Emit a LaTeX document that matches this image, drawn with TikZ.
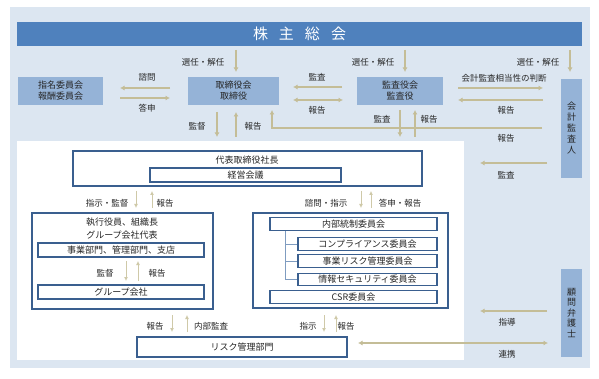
\documentclass[tikz,border=0pt]{standalone}
\usepackage{fontspec}
\setmainfont{Noto Sans CJK JP}
\usetikzlibrary{arrows.meta}
\definecolor{bgc}{HTML}{DCE6F1}
\definecolor{bannerc}{HTML}{4F81BD}
\definecolor{midb}{HTML}{95B3D7}
\definecolor{edgec}{HTML}{3A5F8F}
\definecolor{tanc}{HTML}{C4BD97}
\definecolor{tanl}{HTML}{CFC9A8}
\definecolor{treec}{HTML}{7F9CC0}
\definecolor{txt}{HTML}{262626}
\begin{document}
\begin{tikzpicture}[x=1pt,y=-1pt,
  bluebox/.style={fill=midb, inner sep=0, text=txt, font=\fontsize{9}{11}\selectfont, align=center},
  wbox/.style={draw=edgec, line width=1.4pt, fill=white, inner sep=0, text=txt, font=\fontsize{9}{11}\selectfont},
  arrA/.style={draw=tanc, line width=1.5pt, -{Latex[length=4.5pt,width=5pt]}},
  arrD/.style={draw=tanc, line width=1.5pt, {Latex[length=4.5pt,width=5pt]}-{Latex[length=4.5pt,width=5pt]}},
  arrB/.style={draw=tanl, line width=0.9pt, -{Latex[length=4pt,width=4pt]}},
  lbl/.style={text=txt, font=\fontsize{8.5}{10}\selectfont, inner sep=0},
  boxtxt/.style={text=txt, font=\fontsize{9}{11}\selectfont, inner sep=0, align=center},
  treeline/.style={draw=treec, line width=0.8pt},
]
\useasboundingbox (0,0) rectangle (599,379);
\fill[bgc] (10,7) rectangle (590,368);
\fill[white] (17,141) rectangle (464,360);

% top banner
\node[fill=bannerc, minimum width=565pt, minimum height=24pt, inner sep=0, text=white,
      font=\fontsize{15}{15}\selectfont] (banner) at (299.5,34) {株\hspace{11pt}主\hspace{11pt}総\hspace{11pt}会};

% blue boxes
\node[bluebox, minimum width=85pt, minimum height=28pt] (nomi) at (60.5,91) {指名委員会\\報酬委員会};
\node[bluebox, minimum width=91pt, minimum height=28pt] (tori) at (233.5,91) {取締役会\\取締役};
\node[bluebox, minimum width=86pt, minimum height=28pt] (kansa) at (400,91) {監査役会\\監査役};
\node[bluebox, minimum width=21pt, minimum height=99pt] (kaikei) at (571.5,128.5) {会\\計\\監\\査\\人};
\node[bluebox, minimum width=21pt, minimum height=88pt, font=\fontsize{9}{10.5}\selectfont] (komon) at (571.5,313) {顧\\問\\弁\\護\\士};

% white boxes
\node[wbox, minimum width=349pt, minimum height=35pt] (daihyo) at (247.5,168.5) {};
\node[boxtxt] (daihyot) at (247,160) {代表取締役社長};
\node[wbox, minimum width=191pt, minimum height=14pt] (keiei) at (245.5,175) {経営会議};

\node[wbox, minimum width=181pt, minimum height=96pt] (shikko) at (122.5,261) {};
\node[boxtxt, font=\fontsize{9}{13}\selectfont] (shikkot) at (122,228.5) {執行役員、組織長\\グループ会社代表};
\node[wbox, minimum width=166pt, minimum height=14pt] (jigyo) at (121,250) {事業部門、管理部門、支店};
\node[wbox, minimum width=166pt, minimum height=14pt] (group) at (121,292) {グループ会社};

\node[wbox, minimum width=195pt, minimum height=95pt] (rbox) at (350.5,260.5) {};
\node[wbox, minimum width=167pt, minimum height=12.5pt] (naibu) at (353.5,224) {内部統制委員会};
\node[wbox, minimum width=139pt, minimum height=12.5pt] (comp) at (367.5,244) {コンプライアンス委員会};
\node[wbox, minimum width=139pt, minimum height=12.5pt] (jrisk) at (367.5,261) {事業リスク管理委員会};
\node[wbox, minimum width=139pt, minimum height=12.5pt] (joho) at (367.5,279.5) {情報セキュリティ委員会};
\node[wbox, minimum width=167pt, minimum height=12.5pt] (csr) at (353.5,297) {CSR委員会};

\node[wbox, minimum width=210pt, minimum height=20pt] (risk) at (242,347) {リスク管理部門};

% tree lines
\draw[treeline] ([xshift=-68.5pt]naibu.south) |- (comp.west);
\draw[treeline] ([xshift=-68.5pt]naibu.south) |- (jrisk.west);
\draw[treeline] ([xshift=-68.5pt]naibu.south) |- (joho.west);

% arrow end points
\coordinate (a1s) at (236,50);  \coordinate (a1e) at (236,72);
\coordinate (a2s) at (405,50);  \coordinate (a2e) at (405,72);
\coordinate (a3s) at (570,50);  \coordinate (a3e) at (570,72);
\coordinate (a4s) at (170,88);  \coordinate (a4e) at (120,88);
\coordinate (a5s) at (120,98);  \coordinate (a5e) at (170,98);
\coordinate (a6s) at (342,87);  \coordinate (a6e) at (293,87);
\coordinate (a7s) at (293,100); \coordinate (a7e) at (343,100);
\coordinate (a8s) at (458,88);  \coordinate (a8e) at (543,88);
\coordinate (a9s) at (543,100); \coordinate (a9e) at (458,100);
\coordinate (a10s) at (217,112); \coordinate (a10e) at (217,137);
\coordinate (a11s) at (236,137); \coordinate (a11e) at (236,112);
\coordinate (a12s) at (542,128); \coordinate (a12m) at (272,128); \coordinate (a12e) at (272,110);
\coordinate (a13s) at (400,110); \coordinate (a13e) at (400,137);
\coordinate (a14s) at (415,137); \coordinate (a14e) at (415,110);
\coordinate (a15s) at (547,163); \coordinate (a15e) at (480,163);
\coordinate (a16s) at (136,191); \coordinate (a16e) at (136,208);
\coordinate (a17s) at (152,208); \coordinate (a17e) at (152,191);
\coordinate (a18s) at (361,191); \coordinate (a18e) at (361,208);
\coordinate (a19s) at (371,208); \coordinate (a19e) at (371,191);
\coordinate (a20s) at (126,261); \coordinate (a20e) at (126,281);
\coordinate (a21s) at (138,281); \coordinate (a21e) at (138,261);
\coordinate (a22s) at (172,315); \coordinate (a22e) at (172,332);
\coordinate (a23s) at (187,332); \coordinate (a23e) at (187,315);
\coordinate (a24s) at (324,315); \coordinate (a24e) at (324,332);
\coordinate (a25s) at (336,332); \coordinate (a25e) at (336,315);
\coordinate (a26s) at (547,311); \coordinate (a26e) at (480,311);
\coordinate (a27s) at (358,343); \coordinate (a27e) at (548,343);

% arrows on the blue background
\draw[arrA] (a1s) -- (a1e);
\draw[arrA] (a2s) -- (a2e);
\draw[arrA] (a3s) -- (a3e);
\draw[arrA] (a4s) -- (a4e);
\draw[arrA] (a5s) -- (a5e);
\draw[arrA] (a6s) -- (a6e);
\draw[arrD] (a7s) -- (a7e);
\draw[arrA] (a8s) -- (a8e);
\draw[arrA] (a9s) -- (a9e);
\draw[arrA] (a10s) -- (a10e);
\draw[arrA] (a11s) -- (a11e);
\draw[arrA] (a12s) -- (a12m) -- (a12e);
\draw[arrA] (a13s) -- (a13e);
\draw[arrA] (a14s) -- (a14e);
\draw[arrA] (a15s) -- (a15e);
\draw[arrA] (a26s) -- (a26e);
\draw[arrD] (a27s) -- (a27e);

% thin arrows in the white area
\draw[arrB] (a16s) -- (a16e);
\draw[arrB] (a17s) -- (a17e);
\draw[arrB] (a18s) -- (a18e);
\draw[arrB] (a19s) -- (a19e);
\draw[arrB] (a20s) -- (a20e);
\draw[arrB] (a21s) -- (a21e);
\draw[arrB] (a22s) -- (a22e);
\draw[arrB] (a23s) -- (a23e);
\draw[arrB] (a24s) -- (a24e);
\draw[arrB] (a25s) -- (a25e);

% labels
\node[lbl] (l1) at (203,62) {選任・解任};
\node[lbl] (l2) at (373,62) {選任・解任};
\node[lbl] (l3) at (538,62) {選任・解任};
\node[lbl] (l4) at (147,77) {諮問};
\node[lbl] (l5) at (147,108) {答申};
\node[lbl] (l6) at (317,77) {監査};
\node[lbl] (l7) at (317,110) {報告};
\node[lbl] (l8) at (504,78) {会計監査相当性の判断};
\node[lbl] (l9) at (506,110) {報告};
\node[lbl] (l10) at (197,126) {監督};
\node[lbl] (l11) at (253,126) {報告};
\node[lbl] (l12) at (506,138) {報告};
\node[lbl] (l13) at (382,119) {監査};
\node[lbl] (l14) at (429,119) {報告};
\node[lbl] (l15) at (506,175) {監査};
\node[lbl] (l16) at (107,203) {指示・監督};
\node[lbl] (l17) at (165,203) {報告};
\node[lbl] (l18) at (326,203) {諮問・指示};
\node[lbl] (l19) at (400,203) {答申・報告};
\node[lbl] (l20) at (105,273) {監督};
\node[lbl] (l21) at (157,273) {報告};
\node[lbl] (l22) at (155,326) {報告};
\node[lbl] (l23) at (211,326) {内部監査};
\node[lbl] (l24) at (308,326) {指示};
\node[lbl] (l25) at (346,326) {報告};
\node[lbl] (l26) at (507,322) {指導};
\node[lbl] (l27) at (507,354) {連携};
\end{tikzpicture}
\end{document}
